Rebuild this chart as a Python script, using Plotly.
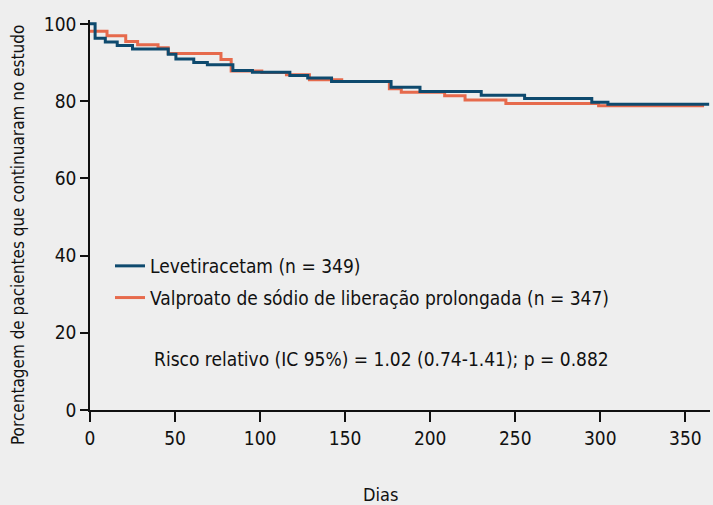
import plotly.graph_objects as go

# Kaplan-Meier style step data (days, % remaining in study)
lev_days = [0, 3, 9, 16, 25, 46, 50.5, 61, 69, 84, 95.5, 117.5, 128, 142, 177, 194, 230, 255.5, 295, 304.5, 364]
lev_vals = [100, 96.3, 95.3, 94.4, 93.5, 92.1, 90.9, 90.0, 89.4, 87.9, 87.5, 86.6, 86.0, 85.1, 83.6, 82.5, 81.5, 80.7, 79.7, 79.2, 79.2]

val_days = [0, 10, 21, 28, 40, 46, 77, 83, 101, 115.5, 129, 148, 176, 183, 208.5, 220.5, 244.5, 299, 361]
val_vals = [98.1, 96.9, 95.4, 94.6, 93.8, 92.3, 90.8, 87.8, 87.4, 86.8, 85.5, 85.1, 83.2, 82.3, 81.4, 80.3, 79.4, 78.8, 78.8]

x_ticks = [0, 50, 100, 150, 200, 250, 300, 350]
y_ticks = [0, 20, 40, 60, 80, 100]

lev_name = "Levetiracetam (n = 349)"
val_name = "Valproato de sódio de liberação prolongada (n = 347)"
stats_text = "Risco relativo (IC 95%) = 1.02 (0.74-1.41); p = 0.882"

FONT = "DejaVu Sans Condensed, Liberation Sans Narrow, sans-serif"
BLUE = "#0e4a6e"
ORANGE = "#e66a4c"

W, H, L, R, T, B = 713, 505, 90, 3, 20, 95
pw, ph = W - L - R, H - T - B
def px_to_paper(px, py):
    return (px - L) / pw, (H - B - py) / ph

fig = go.Figure()
fig.add_trace(go.Scatter(x=val_days, y=val_vals, mode="lines", line_shape="hv",
                         line=dict(color=ORANGE, width=3), name=val_name,
                         legendrank=2, legendgroup="b"))
fig.add_trace(go.Scatter(x=lev_days, y=lev_vals, mode="lines", line_shape="hv",
                         line=dict(color=BLUE, width=3), name=lev_name,
                         legendrank=1, legendgroup="a"))

lx, ly = px_to_paper(110, 247)
sx, sy = px_to_paper(152, 359)
ax, ay = px_to_paper(380, 494)
tx, ty = px_to_paper(18, 235)

fig.update_layout(
    width=W, height=H,
    margin=dict(l=L, r=R, t=T, b=B),
    paper_bgcolor="#eeeeee", plot_bgcolor="rgba(0,0,0,0)",
    font=dict(family=FONT, size=19, color="#111111"),
    showlegend=True,
    legend=dict(x=lx, y=ly, xanchor="left", yanchor="top",
                bgcolor="rgba(0,0,0,0)", font=dict(size=19, family=FONT),
                tracegroupgap=4, traceorder="grouped"),
    xaxis=dict(range=[0, 364.5], tickvals=x_ticks, ticks="outside", ticklen=10,
               tickwidth=1.5, tickcolor="#111", showline=True, linecolor="#111",
               linewidth=1.5, showgrid=False, zeroline=False,
               tickfont=dict(size=19, family=FONT)),
    yaxis=dict(range=[0, 101], tickvals=y_ticks, ticks="outside", ticklen=8,
               tickwidth=1.5, tickcolor="#111", showline=True, linecolor="#111",
               linewidth=1.5, showgrid=False, zeroline=False,
               tickfont=dict(size=19, family=FONT)),
    annotations=[
        dict(text=stats_text, x=sx, y=sy, xref="paper", yref="paper",
             xanchor="left", yanchor="middle", showarrow=False,
             font=dict(size=19, family=FONT)),
        dict(text="Dias", x=ax, y=ay, xref="paper", yref="paper", showarrow=False,
             xanchor="center", yanchor="middle", font=dict(size=18, family=FONT)),
        dict(text="Porcentagem de pacientes que continuaram no estudo",
             x=tx, y=ty, xref="paper", yref="paper", textangle=-90,
             xanchor="center", yanchor="middle", showarrow=False,
             font=dict(size=17, family=FONT)),
    ],
)

fig.write_html("out.html",
               config={"displayModeBar": False},
               post_script="document.body.style.margin='0';document.body.style.background='#eeeeee';")
